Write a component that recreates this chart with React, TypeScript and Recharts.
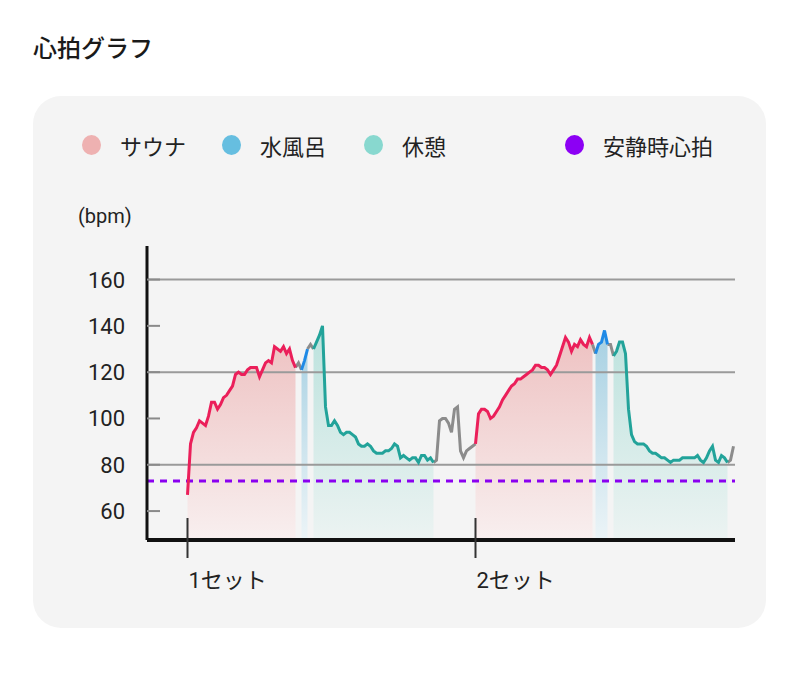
import React from 'react';
import { Area, ComposedChart, Line, ReferenceLine, XAxis, YAxis } from 'recharts';

// heart rate samples, one per time step, starting at step 14
const firstStep = 14;
const lastStep = 196;
const heartRate = [
  67, 89, 94, 96, 99, 98, 97, 101, 107, 107,
  104, 106, 109, 110, 112, 114, 119, 120, 119, 119,
  121, 122, 122, 122, 118, 121, 124, 125, 124, 131,
  130, 129, 131, 128, 130, 125, 122, 124, 121, 125,
  130, 132, 130, 133, 136, 140, 105, 97, 97, 99,
  97, 94, 93, 94, 94, 93, 92, 89, 88, 88,
  89, 88, 86, 85, 85, 85, 86, 86, 87, 89,
  88, 83, 84, 83, 82, 83, 83, 81, 84, 84,
  82, 83, 81, 82, 99, 100, 100, 98, 94, 104,
  105, 86, 83, 86, 87, 88, 89, 102, 104, 104,
  103, 100, 101, 103, 105, 108, 110, 112, 114, 115,
  117, 117, 118, 119, 120, 121, 123, 123, 122, 122,
  121, 119, 121, 123, 127, 131, 135, 133, 129, 132,
  131, 134, 132, 131, 135, 132, 128, 132, 133, 138,
  132, 132, 127, 129, 133, 133, 128, 104, 93, 90,
  89, 89, 89, 88, 86, 85, 85, 84, 83, 83,
  82, 81, 82, 82, 82, 83, 83, 83, 83, 83,
  84, 82, 81, 83, 86, 88, 82, 81, 84, 83,
  81, 82, 88,
];

// phase of each stretch, and the step where it begins
const phaseNames = ['sauna', 'other', 'cold', 'other', 'rest', 'other', 'sauna', 'other', 'cold', 'other', 'rest', 'other'];
const phaseStarts = [14, 50, 52, 54, 56, 96, 110, 149, 150, 154, 156, 194];

const restingHeartRate = 73;
const yTicks = [60, 80, 100, 120, 140, 160];
const gridValues = [80, 120, 160];
const setTicks = [14, 110];
const setLabels = ['1セット', '2セット'];

const legendLabels = ['サウナ', '水風呂', '休憩', '安静時心拍'];
const legendColors = ['#eeb1b1', '#66bee0', '#88d8cf', '#8c00f4'];
const legendLeft = [82, 222, 364, 565];

const FONT = "Roboto, 'Noto Sans CJK JP', sans-serif";

const rows = heartRate.map((hr, i) => {
  const t = firstStep + i;
  const row: Record<string, number> = { t, hr };
  phaseStarts.forEach((start, k) => {
    const end = k + 1 < phaseStarts.length ? phaseStarts[k + 1] : lastStep;
    if (t >= start && t <= end) row[phaseNames[k]] = hr;
  });
  return row;
});

const YTick = ({ x, y, payload }: any) => (
  <g>
    <line x1={x} x2={x + 13} y1={y} y2={y} stroke="#8a8a8a" strokeWidth={2} />
    <text x={x - 22} y={y} dy={8} textAnchor="end" fontSize={22} fill="#222" fontFamily={FONT}>
      {payload.value}
    </text>
  </g>
);

const XTick = ({ x, y, payload }: any) => (
  <g>
    <line x1={x} x2={x} y1={y - 22} y2={y + 18} stroke="#333" strokeWidth={2} />
    <text x={x + 1} y={y + 48} fontSize={22} fill="#222" fontFamily={FONT}>
      {setLabels[setTicks.indexOf(payload.value)]}
    </text>
  </g>
);

export default function App() {
  return (
    <div style={{ position: 'absolute', left: 0, top: 0, width: 800, height: 680, background: '#fff', fontFamily: FONT }}>
      <div style={{ position: 'absolute', left: 33, top: 29, fontSize: 24, fontWeight: 500, color: '#1a1a1a' }}>
        心拍グラフ
      </div>
      <div style={{ position: 'absolute', left: 33, top: 96, width: 733, height: 532, borderRadius: 28, background: '#f4f4f4' }} />
      {legendLabels.map((label, i) => (
        <div key={label} style={{ position: 'absolute', left: legendLeft[i], top: 131, display: 'flex', alignItems: 'center', height: 28 }}>
          <span style={{ width: 19, height: 20, borderRadius: '50%', background: legendColors[i], display: 'inline-block' }} />
          <span style={{ marginLeft: 19, fontSize: 22, color: '#222' }}>{label}</span>
        </div>
      ))}
      <div style={{ position: 'absolute', left: 78, top: 204, fontSize: 20, color: '#222' }}>(bpm)</div>
      <div style={{ position: 'absolute', left: 0, top: 200 }}>
        <ComposedChart width={800} height={400} data={rows} margin={{ top: 46, right: 65, bottom: 0, left: 0 }}>
          <defs>
            <linearGradient id="saunaFill" x1="0" y1="0" x2="0" y2="1">
              <stop offset="0%" stopColor="#eec2c2" />
              <stop offset="100%" stopColor="#f8efef" />
            </linearGradient>
            <linearGradient id="coldFill" x1="0" y1="0" x2="0" y2="1">
              <stop offset="0%" stopColor="#a6d0e2" />
              <stop offset="100%" stopColor="#ecf4f7" />
            </linearGradient>
            <linearGradient id="restFill" x1="0" y1="0" x2="0" y2="1">
              <stop offset="0%" stopColor="#bbe2dd" />
              <stop offset="100%" stopColor="#ecf3f2" />
            </linearGradient>
          </defs>
          <XAxis
            dataKey="t"
            type="number"
            domain={[0.5, 196.5]}
            ticks={setTicks}
            height={60}
            tickSize={0}
            tickMargin={0}
            tickLine={false}
            axisLine={{ stroke: '#111', strokeWidth: 4 }}
            tick={<XTick />}
            allowDataOverflow
          />
          <YAxis
            type="number"
            domain={[47.5, 174.5]}
            ticks={yTicks}
            width={147}
            tickSize={0}
            tickMargin={0}
            tickLine={false}
            axisLine={{ stroke: '#111', strokeWidth: 3 }}
            tick={<YTick />}
            allowDataOverflow
          />
          <Area dataKey="sauna" type="linear" stroke="none" fill="url(#saunaFill)" fillOpacity={1} isAnimationActive={false} />
          <Area dataKey="cold" type="linear" stroke="none" fill="url(#coldFill)" fillOpacity={1} isAnimationActive={false} />
          <Area dataKey="rest" type="linear" stroke="none" fill="url(#restFill)" fillOpacity={1} isAnimationActive={false} />
          {gridValues.map((v) => (
            <ReferenceLine key={v} y={v} stroke="#9a9a9a" strokeWidth={2} />
          ))}
          <ReferenceLine y={restingHeartRate} stroke="#8a00f0" strokeWidth={3} strokeDasharray="7 6" />
          <Line dataKey="other" type="linear" stroke="#8c8c8c" strokeWidth={3} dot={false} isAnimationActive={false} />
          <Line dataKey="sauna" type="linear" stroke="#eb1f5a" strokeWidth={3} dot={false} isAnimationActive={false} />
          <Line dataKey="cold" type="linear" stroke="#1f8ae6" strokeWidth={3} dot={false} isAnimationActive={false} />
          <Line dataKey="rest" type="linear" stroke="#22a39a" strokeWidth={3} dot={false} isAnimationActive={false} />
        </ComposedChart>
      </div>
    </div>
  );
}
